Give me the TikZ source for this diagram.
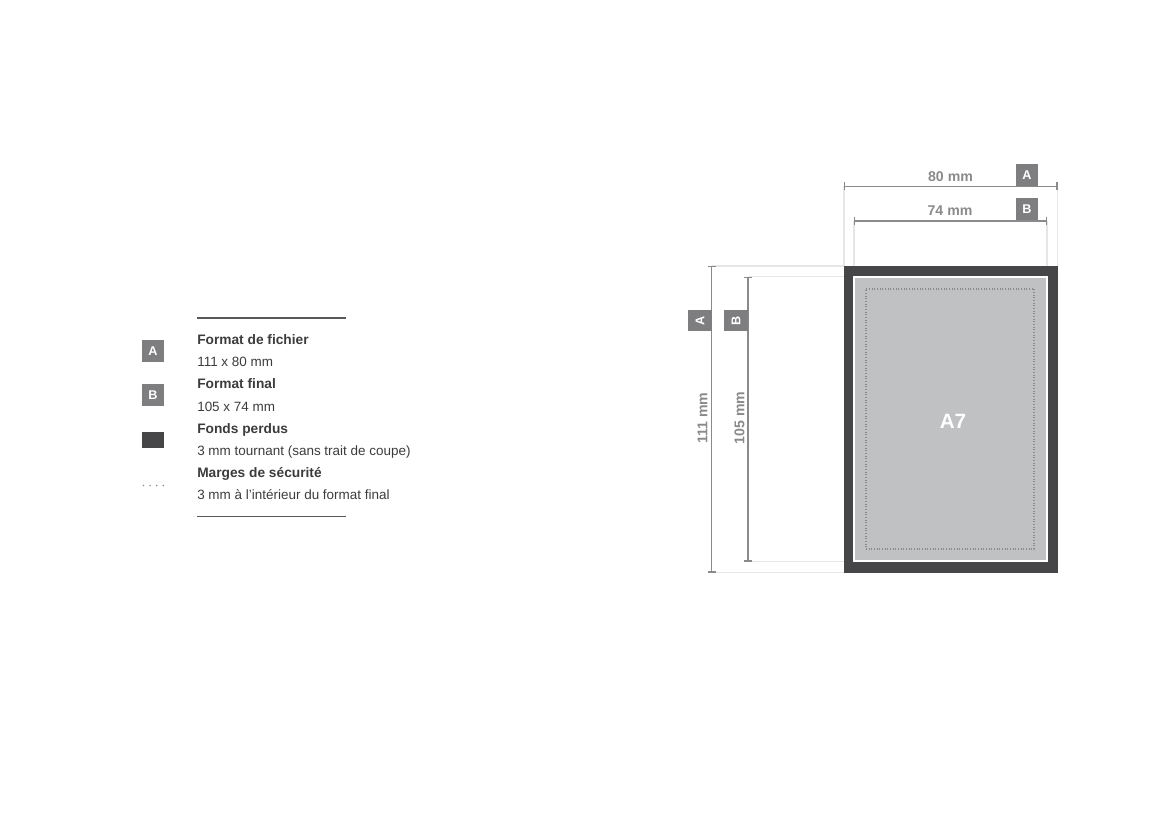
\documentclass[tikz,border=0pt]{standalone}
\usepackage{fontspec}
\setmainfont{Liberation Sans}
\usetikzlibrary{arrows.meta,backgrounds}

\definecolor{bleedgray}{HTML}{464648}
\definecolor{sheetgray}{HTML}{C0C1C3}
\definecolor{badgegray}{HTML}{7E7E80}
\definecolor{dimgray}{HTML}{8A8A8C}
\definecolor{extgray}{HTML}{E6E6E6}
\definecolor{legtextgray}{HTML}{3C3C3C}

\begin{document}
\begin{tikzpicture}
          [x=0.75pt,y=-0.75pt,
           badge/.style={fill=badgegray,text=white,inner sep=0pt,
             font=\bfseries\fontsize{9.5}{9.5}\selectfont,minimum width=16.5pt,minimum height=16.5pt},
           dimline/.style={dimgray,line width=1pt,{Bar[width=6pt]}-{Bar[width=6pt]}},
           dimlabel/.style={text=dimgray,font=\bfseries\fontsize{10.6}{12}\selectfont,inner sep=0pt},
           extline/.style={extgray,line width=0.8pt},
           legtitle/.style={anchor=base west,inner sep=0pt,text=legtextgray,font=\bfseries\fontsize{10.3}{12}\selectfont},
           legtext/.style={anchor=base west,inner sep=0pt,text=legtextgray,font=\fontsize{10.1}{12}\selectfont},
           rule/.style={legtextgray!85,line width=1.1pt}]
          \useasboundingbox (0,0) rectangle (1170,827);

          % sheet
          \node[fill=bleedgray,minimum width=160.5pt,minimum height=230.25pt,inner sep=0pt] (file) at (951,419.5) {};
          \node[fill=sheetgray,draw=white,line width=1.5pt,minimum width=145pt,minimum height=213.25pt,inner sep=0pt] (final) at (950.5,419) {};
          \node[draw=dimgray,line width=0.9pt,dash pattern=on 0.7pt off 1.3pt,minimum width=126pt,minimum height=195pt,inner sep=0pt] (safe) at (950,419) {};
          \node[text=white,font=\bfseries\fontsize{15.5}{16}\selectfont] (a7) at (953,421) {A7};

          % horizontal dimensions
          \coordinate (w80l) at (844,186.5);
          \coordinate (w80r) at (1057.5,186.5);
          \coordinate (w74l) at (854,221);
          \coordinate (w74r) at (1047,221);
          \begin{scope}[on background layer]
            \draw[extline] (w80l) -- (w80l |- file.north);
            \draw[extline] (w80r) -- (w80r |- file.north);
            \draw[extline] (w74l) -- (w74l |- file.north);
            \draw[extline] (w74r) -- (w74r |- file.north);
          \end{scope}
          \draw[dimline] (w80l) -- (w80r);
          \draw[dimline] (w74l) -- (w74r);
          \node[dimlabel] (l80) at (950.5,177) {80 mm};
          \node[dimlabel] (l74) at (950,211) {74 mm};
          \node[badge,minimum height=16.5pt] (wa) at (1027,175) {A};
          \node[badge,minimum height=16.5pt] (wb) at (1027,209.5) {B};

          % vertical dimensions
          \coordinate (h111t) at (711.5,266);
          \coordinate (h111b) at (711.5,572.5);
          \coordinate (h105t) at (748,276.5);
          \coordinate (h105b) at (748,561.5);
          \begin{scope}[on background layer]
            \draw[extline] (h111t) -- (h111t -| file.west);
            \draw[extline] (h111b) -- (h111b -| file.west);
            \draw[extline] (h105t) -- (h105t -| file.west);
            \draw[extline] (h105b) -- (h105b -| file.west);
          \end{scope}
          \draw[dimline] (h111t) -- (h111b);
          \draw[dimline] (h105t) -- (h105b);
          \node[dimlabel,rotate=90] (l111) at (702.5,418) {111 mm};
          \node[dimlabel,rotate=90] (l105) at (739.5,418) {105 mm};
          \node[badge,rotate=90,minimum width=16pt,minimum height=17.5pt] (ha) at (700,320.5) {A};
          \node[badge,rotate=90,minimum width=16pt,minimum height=17.5pt] (hb) at (736,320.5) {B};

          % legend
          \draw[rule] (197,318) -- (346,318);
          \draw[rule] (197,516.5) -- (346,516.5);
          \node[badge] (keya) at (153,351) {A};
          \node[badge] (keyb) at (153,395) {B};
          \node[fill=bleedgray,minimum width=16.5pt,minimum height=12pt,inner sep=0pt] (keybleed) at (153,440) {};
          \foreach \dx in {0,6.6,13.2,19.8}
            \fill[dimgray] (143.5+\dx,485.5) circle (0.85);

          \foreach \i/\txt/\sty in {0/Format de fichier/legtitle,1/111 x 80 mm/legtext,
                                    2/Format final/legtitle,3/105 x 74 mm/legtext,
                                    4/Fonds perdus/legtitle,5/3 mm tournant (sans trait de coupe)/legtext,
                                    6/Marges de sécurité/legtitle,7/3 mm à l’intérieur du format final/legtext}
            \node[\sty] (leg\i) at (197,344.5+22.2*\i) {\txt};

        \end{tikzpicture}
\end{document}
